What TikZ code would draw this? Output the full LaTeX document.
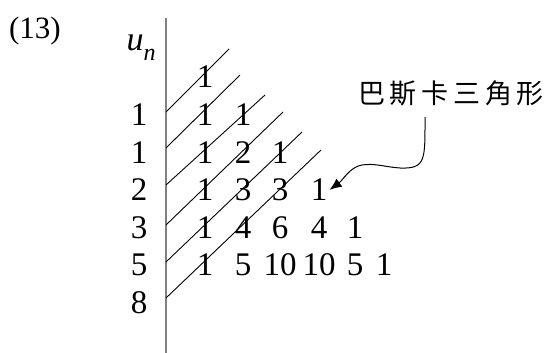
\documentclass[tikz,border=0pt]{standalone}
\usepackage{fontspec}
\setmainfont{Liberation Serif}
\newfontfamily\cjk{Noto Sans CJK TC}
\usetikzlibrary{arrows.meta, positioning}
\definecolor{axisgray}{RGB}{128,128,128}
\tikzset{
  num/.style={inner sep=1pt, font=\fontsize{16.5}{19}\selectfont},
  hatch/.style={line width=0.45pt, color=black},
  axis/.style={line width=1pt, color=axisgray},
  pointer/.style={-{Latex[length=6pt,width=5pt]}, line width=0.5pt, color=black}
}

\begin{document}
\begin{tikzpicture}[x=0.5pt, y=-0.5pt]
  \useasboundingbox (0,0) rectangle (547,353);

  \node[num, font=\fontsize{15.5}{18}\selectfont] (tag) at (35,31) {(13)};
  \node[num, font=\fontsize{17}{20}\selectfont] (un) at (141,48)
    {\textit{u}\raisebox{-5pt}{\fontsize{12}{14}\selectfont\textit{n}}};

  % axis
  \draw[axis] (166,18) -- (166,353);

  % u_n column
  \foreach \v [count=\i] in {1,1,2,3,5,8}
    \node[num] (u-\i) at (139,{77.5+37.5*\i}) {\v};

  % triangle rows
  \foreach \row/\vals in {0/{1}, 1/{1,1}, 2/{1,2,1}, 3/{1,3,3,1},
                          4/{1,4,6,4,1}, 5/{1,5,10,10,5,1}} {
    \foreach \v [count=\c from 0] in \vals {
      \pgfmathsetmacro{\xx}{{205,243,280,319,355,384}[\c]}
      \node[num] (t-\row-\c) at (\xx,{77+37.6*\row}) {\v};
    }
  }

  % diagonals
  \foreach \sy/\ex/\ey in {112/229/49, 148/240/75, 185/265/95,
                           225/283/112, 262/302/132, 298/321/150}
    \draw[hatch] (166,\sy) -- (\ex,\ey);

  % label
  \node[inner sep=0pt, font=\cjk\fontsize{13.5}{15}\selectfont] (lbl) at (451,93)
    {巴\hspace{2.4pt}斯\hspace{2.4pt}卡\hspace{2.4pt}三\hspace{2.4pt}角\hspace{2.4pt}形};
  \coordinate (tail) at (425,117);
  \draw[pointer] (tail) .. controls (425,160) and (426,169) .. (400,168)
    .. controls (385,167) and (375,163) .. (362,165)
    .. controls (350,167) and (343,180) .. (t-3-3.east);
\end{tikzpicture}
\end{document}
